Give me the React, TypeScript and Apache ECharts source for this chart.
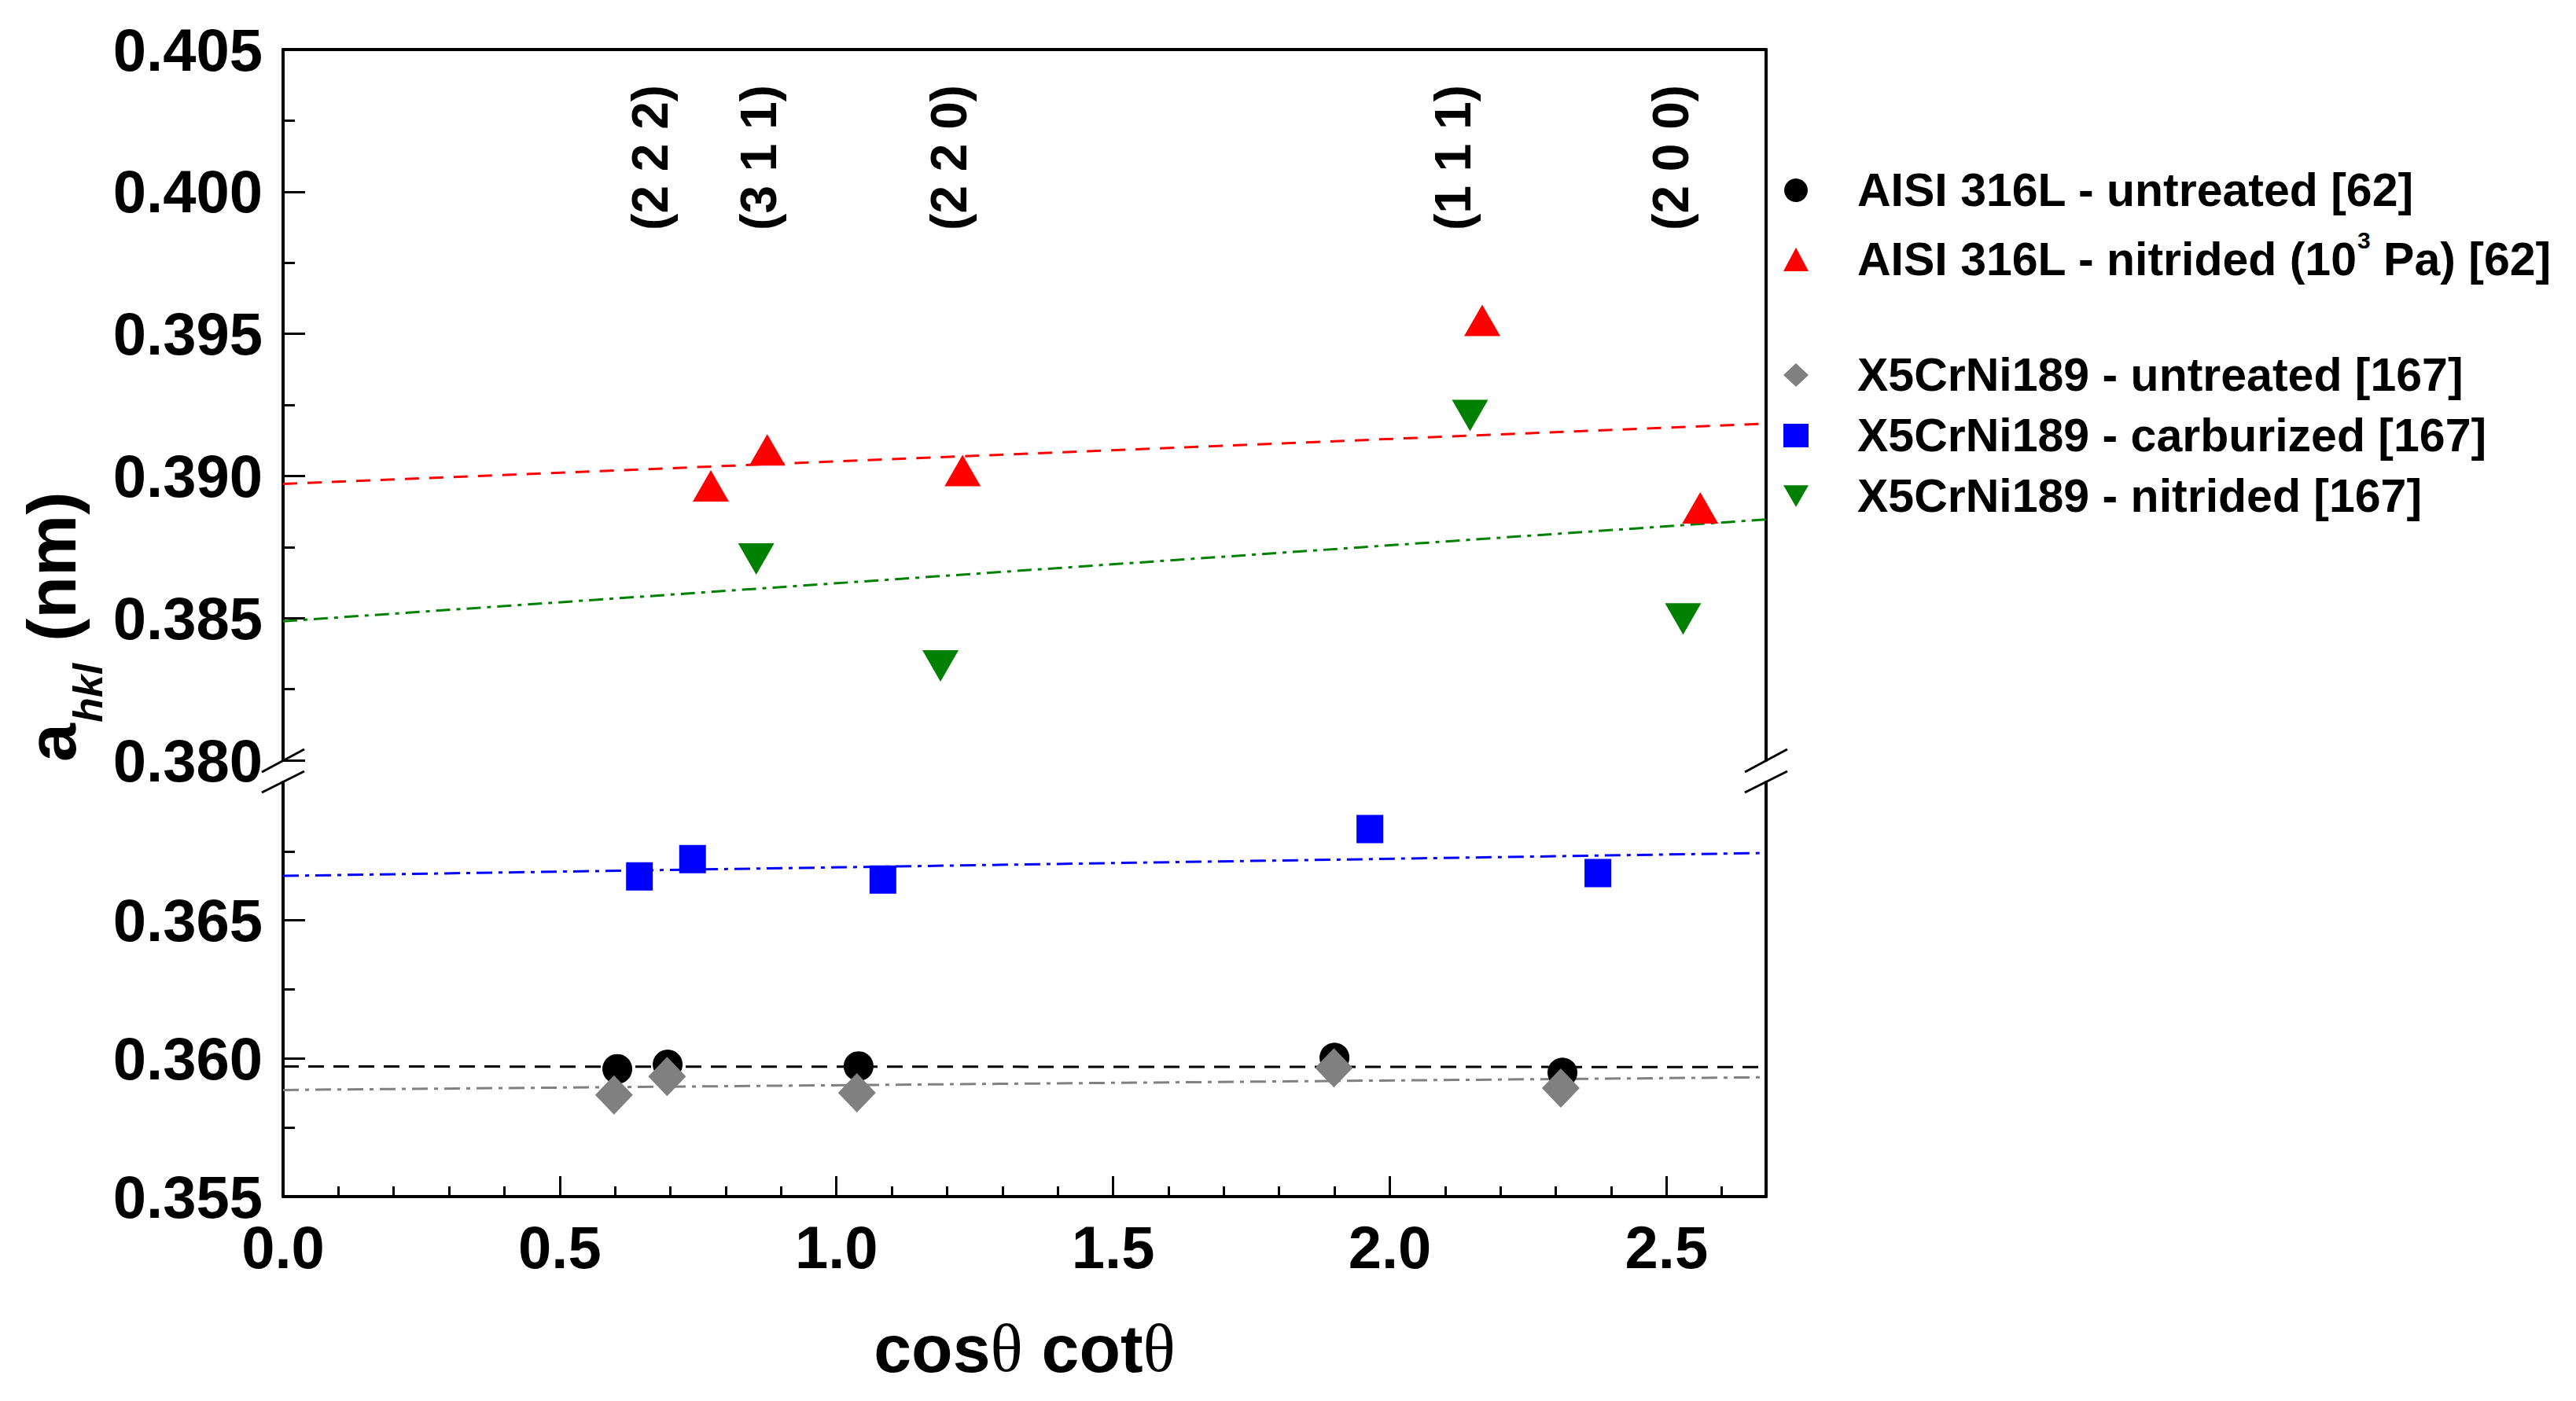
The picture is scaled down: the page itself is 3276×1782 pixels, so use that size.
import { useEffect, useRef } from 'react';
import * as echarts from 'echarts';

const FONT = '"Liberation Sans", Arial, Helvetica, sans-serif';

// series names (legend order)
const seriesNames = [
  'AISI 316L - untreated [62]',
  'AISI 316L - nitrided (10³ Pa) [62]',
  'X5CrNi189 - untreated [167]',
  'X5CrNi189 - carburized [167]',
  'X5CrNi189 - nitrided [167]',
];

// measured lattice parameters a_hkl (nm) vs cosθ cotθ
const aisiUntreatedX = [0.604, 0.695, 1.04, 1.9, 2.312];
const aisiUntreatedY = [0.35962, 0.35978, 0.35972, 0.36003, 0.35949];
const aisiNitridedX = [0.773, 0.875, 1.228, 2.167, 2.561];
const aisiNitridedY = [0.38965, 0.39092, 0.39019, 0.39547, 0.38888];
const x5UntreatedX = [0.598, 0.694, 1.037, 1.899, 2.309];
const x5UntreatedY = [0.35868, 0.35935, 0.35876, 0.35966, 0.35893];
const x5CarburizedX = [0.644, 0.74, 1.084, 1.964, 2.376];
const x5CarburizedY = [0.36659, 0.36722, 0.36648, 0.36831, 0.36671];
const x5NitridedX = [0.855, 1.188, 2.145, 2.53];
const x5NitridedY = [0.38708, 0.38332, 0.39213, 0.38497];

// linear fits, end points
const fitX = [0, 2.68];
const fitAisiUntreated = [0.35971, 0.35969];
const fitAisiNitrided = [0.38972, 0.39184];
const fitX5Untreated = [0.35886, 0.35932];
const fitX5Carburized = [0.36661, 0.36744];
const fitX5Nitrided = [0.38489, 0.38847];

// reflections
const hklLabels = ['(2 2 2)', '(3 1 1)', '(2 2 0)', '(1 1 1)', '(2 0 0)'];
const hklX = [0.664, 0.86, 1.203, 2.114, 2.508];
const hklY = [0.4012, 0.4012, 0.4012, 0.4012, 0.4012];

// axis ranges
const xMax = 2.68;
const upperRange = [0.38, 0.405];
const lowerRange = [0.355, 0.37];
const lowerTicks = [0.355, 0.36, 0.365];

// layout (px)
const LEFT = 360;
const RIGHT = 2246;
const UP_TOP = 63;
const UP_BOTTOM = 967;
const LOW_TOP = 995;
const LOW_BOTTOM = 1522;

const pairs = (xs: number[], ys: number[]) => xs.map((x, i) => [x, ys[i]]);

const axisLine = { show: true, lineStyle: { color: '#000', width: 4 } };
const labelStyle = { fontFamily: FONT, fontWeight: 'bold', fontSize: 76, color: '#000' };

const App = () => {
  const chartRef = useRef<HTMLDivElement>(null);

  useEffect(() => {
    if (!chartRef.current) return;
    const chart = echarts.init(chartRef.current, null, { renderer: 'svg' });

    const gridBox = (top: number, bottom: number) => ({
      left: LEFT,
      top,
      width: RIGHT - LEFT,
      height: bottom - top,
      outerBoundsMode: 'none',
    });

    const breakMarks = (x: number) => [
      { type: 'line', shape: { x1: x - 27, y1: UP_BOTTOM + 15, x2: x + 27, y2: UP_BOTTOM - 14 }, style: { stroke: '#000', lineWidth: 3 } },
      { type: 'line', shape: { x1: x - 27, y1: LOW_TOP + 13, x2: x + 27, y2: LOW_TOP - 14 }, style: { stroke: '#000', lineWidth: 3 } },
    ];

    const fitLine = (name: string, ys: number[], color: string, dash: number[], upper: boolean) => ({
      type: 'line',
      name,
      xAxisIndex: upper ? 0 : 1,
      yAxisIndex: upper ? 0 : 1,
      data: pairs(fitX, ys),
      symbol: 'none',
      silent: true,
      z: 1,
      lineStyle: { color, width: 3, type: dash },
    });

    const legendText = {
      fontFamily: FONT,
      fontWeight: 'bold',
      fontSize: 59,
      color: '#000',
      padding: [0, 0, 0, 57],
    };

    const dot = (color: string) => ({ color, opacity: 1 });

    const option = {
      animation: false,
      backgroundColor: '#fff',
      grid: [gridBox(UP_TOP, UP_BOTTOM), gridBox(LOW_TOP, LOW_BOTTOM), gridBox(LOW_TOP, LOW_BOTTOM)],
      xAxis: [
        {
          type: 'value', gridIndex: 0, position: 'top', min: 0, max: xMax,
          axisLine, axisTick: { show: false }, axisLabel: { show: false }, splitLine: { show: false },
        },
        {
          type: 'value', gridIndex: 1, position: 'bottom', min: 0, max: xMax, interval: 0.5,
          axisLine,
          axisTick: { inside: true, length: 26, lineStyle: { color: '#000', width: 3 } },
          axisLabel: {
            ...labelStyle,
            margin: 26,
            formatter: (v: number) => (Math.abs(v * 2 - Math.round(v * 2)) < 1e-6 ? v.toFixed(1) : ''),
          },
          splitLine: { show: false },
          name: 'cos{t|θ} cot{t|θ}',
          nameLocation: 'middle',
          nameGap: 150,
          nameTextStyle: {
            fontFamily: FONT, fontWeight: 'bold', fontSize: 86, color: '#000',
            rich: { t: { fontFamily: '"Liberation Serif", serif', fontWeight: 'normal', fontSize: 86, color: '#000' } },
          },
        },
        {
          type: 'value', gridIndex: 2, position: 'bottom', min: 0, max: xMax, interval: 0.1,
          axisLine: { show: false },
          axisTick: { inside: true, length: 13, lineStyle: { color: '#000', width: 3 } },
          axisLabel: { show: false }, splitLine: { show: false },
        },
      ],
      yAxis: [
        {
          type: 'value', gridIndex: 0, position: 'left', min: upperRange[0], max: upperRange[1], interval: 0.005,
          axisLine,
          axisTick: { inside: true, length: 28, lineStyle: { color: '#000', width: 3 } },
          minorTick: { show: true, splitNumber: 2, length: 15, lineStyle: { color: '#000', width: 3 } },
          axisLabel: { ...labelStyle, margin: 26, formatter: (v: number) => v.toFixed(3) },
          splitLine: { show: false }, minorSplitLine: { show: false },
        },
        {
          type: 'value', gridIndex: 1, position: 'left', min: lowerRange[0], max: lowerRange[1], interval: 0.005,
          axisLine,
          axisTick: { inside: true, length: 28, customValues: lowerTicks, lineStyle: { color: '#000', width: 3 } },
          minorTick: { show: true, splitNumber: 2, length: 15, lineStyle: { color: '#000', width: 3 } },
          axisLabel: { ...labelStyle, margin: 26, formatter: (v: number) => (v > 0.3695 ? '' : v.toFixed(3)) },
          splitLine: { show: false }, minorSplitLine: { show: false },
        },
        {
          type: 'value', gridIndex: 0, position: 'right', min: upperRange[0], max: upperRange[1],
          axisLine, axisTick: { show: false }, axisLabel: { show: false }, splitLine: { show: false },
        },
        {
          type: 'value', gridIndex: 1, position: 'right', min: lowerRange[0], max: lowerRange[1],
          axisLine, axisTick: { show: false }, axisLabel: { show: false }, splitLine: { show: false },
        },
        {
          type: 'value', gridIndex: 2, show: false, min: lowerRange[0], max: lowerRange[1],
        },
      ],
      legend: [
        {
          orient: 'vertical', left: 2263, top: 197, itemWidth: 32, itemHeight: 30, itemGap: 8,
          selectedMode: false,
          data: [seriesNames[0], seriesNames[1]],
          formatter: (name: string) => name.replace('³', '{sup|3}'),
          textStyle: {
            ...legendText,
            lineHeight: 80,
            rich: { sup: { fontFamily: FONT, fontWeight: 'bold', fontSize: 30, lineHeight: 30, verticalAlign: 'top', color: '#000' } },
          },
        },
        {
          orient: 'vertical', left: 2263, top: 442, itemWidth: 32, itemHeight: 30, itemGap: 17,
          selectedMode: false,
          data: [seriesNames[2], seriesNames[3], seriesNames[4]],
          textStyle: { ...legendText, lineHeight: 60 },
        },
      ],
      graphic: [
        ...breakMarks(LEFT),
        ...breakMarks(RIGHT),
        {
          type: 'text', x: 65, y: 969, rotation: Math.PI / 2,
          style: { text: 'a', font: `bold 88px ${FONT}`, fill: '#000', align: 'left', verticalAlign: 'middle' },
        },
        {
          type: 'text', x: 112, y: 919, rotation: Math.PI / 2,
          style: { text: 'hkl', font: `italic bold 52px ${FONT}`, fill: '#000', align: 'left', verticalAlign: 'middle' },
        },
        {
          type: 'text', x: 65, y: 816, rotation: Math.PI / 2,
          style: { text: '(nm)', font: `bold 88px ${FONT}`, fill: '#000', align: 'left', verticalAlign: 'middle' },
        },
      ],
      series: [
        fitLine('fit AISI untreated', fitAisiUntreated, '#000000', [20, 12], false),
        fitLine('fit X5 untreated', fitX5Untreated, '#808080', [20, 8, 5, 8], false),
        fitLine('fit X5 carburized', fitX5Carburized, '#0000ff', [20, 8, 5, 8], false),
        fitLine('fit AISI nitrided', fitAisiNitrided, '#ff0000', [18, 13], true),
        fitLine('fit X5 nitrided', fitX5Nitrided, '#008000', [18, 8, 5, 8], true),
        {
          type: 'scatter', name: seriesNames[0], xAxisIndex: 1, yAxisIndex: 1,
          data: pairs(aisiUntreatedX, aisiUntreatedY),
          symbol: 'circle', symbolSize: 38, itemStyle: dot('#000000'), z: 3,
        },
        {
          type: 'scatter', name: seriesNames[1], xAxisIndex: 0, yAxisIndex: 0,
          data: pairs(aisiNitridedX, aisiNitridedY),
          symbol: 'triangle', symbolSize: [46, 40], itemStyle: dot('#ff0000'), z: 3,
        },
        {
          type: 'scatter', name: seriesNames[2], xAxisIndex: 1, yAxisIndex: 1,
          data: pairs(x5UntreatedX, x5UntreatedY),
          symbol: 'diamond', symbolSize: [48, 50], itemStyle: dot('#808080'), z: 4,
        },
        {
          type: 'scatter', name: seriesNames[3], xAxisIndex: 1, yAxisIndex: 1,
          data: pairs(x5CarburizedX, x5CarburizedY),
          symbol: 'rect', symbolSize: [34, 36], itemStyle: dot('#0000ff'), z: 3,
        },
        {
          type: 'scatter', name: seriesNames[4], xAxisIndex: 0, yAxisIndex: 0,
          data: pairs(x5NitridedX, x5NitridedY),
          symbol: 'path://M0,0L20,0L10,17.3Z', symbolSize: [46, 40], itemStyle: dot('#008000'), z: 3,
        },
        {
          type: 'scatter', name: 'hkl', xAxisIndex: 0, yAxisIndex: 0,
          data: pairs(hklX, hklY),
          symbolSize: 1, itemStyle: { color: 'rgba(0,0,0,0)', opacity: 1 }, silent: true, z: 5,
          label: {
            show: true, position: 'inside', rotate: 90,
            fontFamily: FONT, fontWeight: 'bold', fontSize: 64, color: '#000', opacity: 1,
            formatter: (p: { dataIndex: number }) => hklLabels[p.dataIndex],
          },
        },
      ],
    };

    chart.setOption(option as any);

    return () => {
      chart.dispose();
    };
  }, []);

  return (
    <div
      ref={chartRef}
      style={{ position: 'absolute', left: 0, top: 0, width: '3276px', height: '1782px', background: '#fff' }}
    />
  );
};

export default App;
